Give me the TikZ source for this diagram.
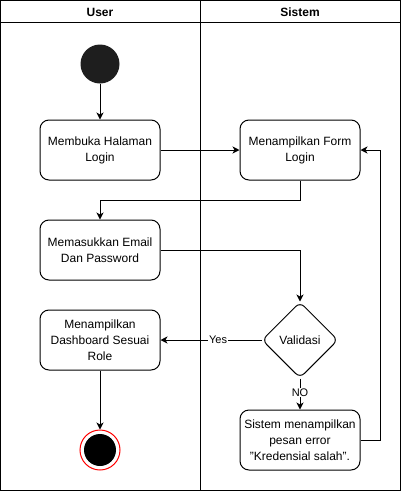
\documentclass[tikz,border=0pt]{standalone}
\usepackage{fontspec}
\setmainfont{Liberation Sans}
\usetikzlibrary{arrows.meta,shapes.geometric}
\begin{document}
\begin{tikzpicture}[x=1pt,y=-1pt,
  font=\fontsize{12}{16}\selectfont,
  lane/.style={line width=1pt},
  act/.style={draw, rounded corners=9pt, minimum width=120pt, minimum height=60pt, align=center, inner sep=0pt, line width=1pt},
  arr/.style={-{Stealth[length=7pt,width=7pt,inset=2pt]}, line width=1pt},
  lbl/.style={fill=white, inner sep=1pt, font=\fontsize{11}{13}\selectfont},
  hdr/.style={font=\bfseries\fontsize{12}{14}\selectfont}]
\useasboundingbox (0,0) rectangle (401,491);
\draw[lane] (0.5,0.5) rectangle (400.5,490.5);
\draw[lane] (0.5,22.5) -- (400.5,22.5);
\draw[lane] (200.5,0.5) -- (200.5,490.5);
\node[hdr] (huser) at (100,12) {User};
\node[hdr] (hsis) at (300,12) {Sistem};

\node[circle, fill={rgb,255:red,30;green,30;blue,30}, minimum size=39pt, inner sep=0pt] (start) at (100,64) {};
\node[act] (b1) at (100,150) {Membuka Halaman\\Login};
\node[act] (b2) at (300,150) {Menampilkan Form\\Login};
\node[act] (b3) at (100,250) {Memasukkan Email\\Dan Password};
\node[act] (b4) at (100,340) {Menampilkan\\Dashboard Sesuai\\Role};
\node[diamond, draw, rounded corners=6pt, minimum width=76pt, minimum height=76pt, inner sep=0pt, line width=1pt] (dia) at (300,340) {Validasi};
\node[act] (b5) at (300,440) {Sistem menampilkan\\pesan error\\\symbol{34}Kredensial salah\symbol{34}.};
\node[circle, draw=red, fill=white, line width=1pt, minimum size=40pt, inner sep=0pt] (end) at (100,450) {};
\node[circle, fill=black, minimum size=32pt, inner sep=0pt] (endin) at (end.center) {};

\draw[arr] (start) -- (b1);
\draw[arr] (b1) -- (b2);
\draw[arr] (b2.south) -- ++(0,20) -| (b3.north);
\draw[arr] (b3.east) -| (dia.north);
\draw[arr] (dia.west) -- node[lbl, pos=0.43] {Yes} (b4.east);
\draw[arr] (dia.south) -- node[lbl, pos=0.45] {NO} (b5.north);
\draw[arr] (b5.east) -- (380,440) |- (b2.east);
\draw[arr] (b4.south) -- (end.north);
\end{tikzpicture}
\end{document}
